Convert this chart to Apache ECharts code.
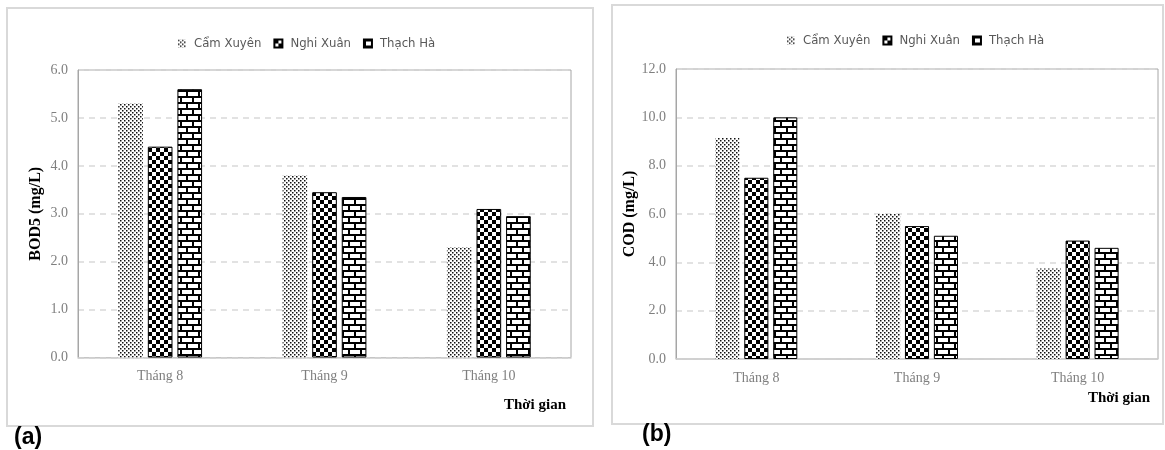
<!DOCTYPE html>
<html>
<head>
<meta charset="utf-8">
<script src="https://cdn.jsdelivr.net/npm/echarts@6/dist/echarts.min.js"></script>
<style>
html,body{margin:0;padding:0;background:#fff;}
#chart{width:1165px;height:450px;}
</style>
</head>
<body>
<div id="chart"></div>
<script>
// ---- Data ----
var categories = ['Tháng 8', 'Tháng 9', 'Tháng 10'];
var seriesNames = ['Cẩm Xuyên', 'Nghi Xuân', 'Thạch Hà'];
var bodCamXuyen = [5.3, 3.8, 2.3];
var bodNghiXuan = [4.4, 3.45, 3.1];
var bodThachHa = [5.6, 3.35, 2.95];
var codCamXuyen = [9.15, 6.0, 3.75];
var codNghiXuan = [7.5, 5.5, 4.9];
var codThachHa = [10.0, 5.1, 4.6];
var bodTicks = { min: 0, max: 6, interval: 1 };
var codTicks = { min: 0, max: 12, interval: 2 };

// ---- Patterns ----
function makeCanvas(w, h, draw) {
  var c = document.createElement('canvas');
  c.width = w; c.height = h;
  var ctx = c.getContext('2d');
  ctx.fillStyle = '#fff';
  ctx.fillRect(0, 0, w, h);
  ctx.fillStyle = '#000';
  draw(ctx);
  return c;
}
var dotPattern = makeCanvas(4, 4, function (ctx) {
  ctx.fillStyle = '#111';
  ctx.fillRect(0, 0, 1.5, 1.5);
  ctx.fillRect(2, 2, 1.5, 1.5);
});
var checkPattern = makeCanvas(8, 8, function (ctx) {
  ctx.fillRect(0, 0, 4, 4);
  ctx.fillRect(4, 4, 4, 4);
});
var brickPattern = makeCanvas(12, 12, function (ctx) {
  ctx.fillRect(0, 0, 12, 2);
  ctx.fillRect(0, 6, 12, 2);
  ctx.fillRect(0, 0, 2, 6);
  ctx.fillRect(6, 6, 2, 6);
});
var styles = [
  { color: { image: dotPattern, repeat: 'repeat' }, borderWidth: 0 },
  { color: { image: checkPattern, repeat: 'repeat' }, borderColor: '#000', borderWidth: 1 },
  { color: { image: brickPattern, repeat: 'repeat' }, borderColor: '#000', borderWidth: 1 }
];

var serif = 'Liberation Serif, Times New Roman, serif';
var narrow = 'Liberation Sans Narrow, DejaVu Sans Condensed, Arial Narrow, sans-serif';

function yAxis(gridIndex, ticks, name, gap) {
  return {
    type: 'value', gridIndex: gridIndex,
    min: ticks.min, max: ticks.max, interval: ticks.interval,
    name: name, nameLocation: 'middle', nameRotate: 90, nameGap: gap,
    nameTextStyle: { fontFamily: serif, fontWeight: 'bold', fontSize: 16, color: '#000' },
    axisLine: { show: true, lineStyle: { color: '#a6a6a6', width: 1 } },
    axisTick: { show: false },
    axisLabel: { margin: 10, fontFamily: serif, fontSize: 14, color: '#7f7f7f',
      formatter: function (v) { return v.toFixed(1); } },
    splitLine: { show: true, lineStyle: { color: '#d9d9d9', width: 1.5, type: [6, 5] } }
  };
}
function xAxis(gridIndex) {
  return {
    type: 'category', gridIndex: gridIndex, data: categories,
    axisLine: { show: true, lineStyle: { color: '#d0d0d0', width: 1.5 } },
    axisTick: { show: false },
    axisLabel: { margin: 12, fontFamily: serif, fontSize: 14, color: '#7f7f7f' }
  };
}
function bars(gridIndex, datasets) {
  return datasets.map(function (d, i) {
    return {
      name: seriesNames[i], type: 'bar', xAxisIndex: gridIndex, yAxisIndex: gridIndex,
      data: d, barWidth: '15%', barGap: '20%',
      itemStyle: styles[i], emphasis: { disabled: true }
    };
  });
}
function legend(left, top) {
  return {
    left: left, top: top, itemWidth: 8, itemHeight: 8, itemGap: 12, icon: 'rect',
    data: seriesNames, selectedMode: false,
    textStyle: { fontFamily: narrow, fontSize: 13, color: '#595959', padding: [0, 0, 0, 3] }
  };
}

var chart = echarts.init(document.getElementById('chart'), null, { renderer: 'canvas' });
chart.setOption({
  animation: false,
  backgroundColor: '#fff',
  grid: [
    { left: 78, right: 594, top: 70, bottom: 92.5, show: true, borderColor: '#a6a6a6', borderWidth: 1 },
    { left: 676, right: 7, top: 69, bottom: 91, show: true, borderColor: '#a6a6a6', borderWidth: 1 }
  ],
  legend: [legend(173, 32), legend(782, 29)],
  xAxis: [xAxis(0), xAxis(1)],
  yAxis: [yAxis(0, bodTicks, 'BOD5 (mg/L)', 34), yAxis(1, codTicks, 'COD (mg/L)', 33)],
  series: bars(0, [bodCamXuyen, bodNghiXuan, bodThachHa])
    .concat(bars(1, [codCamXuyen, codNghiXuan, codThachHa])),
  graphic: [
    { type: 'rect', z: -1, shape: { x: 7, y: 8, width: 586, height: 418 },
      style: { fill: 'none', stroke: '#d9d9d9', lineWidth: 2 } },
    { type: 'rect', z: -1, shape: { x: 612, y: 5, width: 551, height: 419 },
      style: { fill: 'none', stroke: '#d9d9d9', lineWidth: 2 } },
    { type: 'text', x: 566, y: 405, style: { text: 'Thời gian', align: 'right', verticalAlign: 'middle',
      font: 'bold 15px ' + serif, fill: '#000' } },
    { type: 'text', x: 1150, y: 398, style: { text: 'Thời gian', align: 'right', verticalAlign: 'middle',
      font: 'bold 15px ' + serif, fill: '#000' } },
    { type: 'text', x: 14, y: 438, style: { text: '(a)', align: 'left', verticalAlign: 'middle',
      font: 'bold 23px Liberation Sans, Arial, sans-serif', fill: '#000' } },
    { type: 'text', x: 642, y: 435, style: { text: '(b)', align: 'left', verticalAlign: 'middle',
      font: 'bold 23px Liberation Sans, Arial, sans-serif', fill: '#000' } }
  ]
});
</script>
</body>
</html>
